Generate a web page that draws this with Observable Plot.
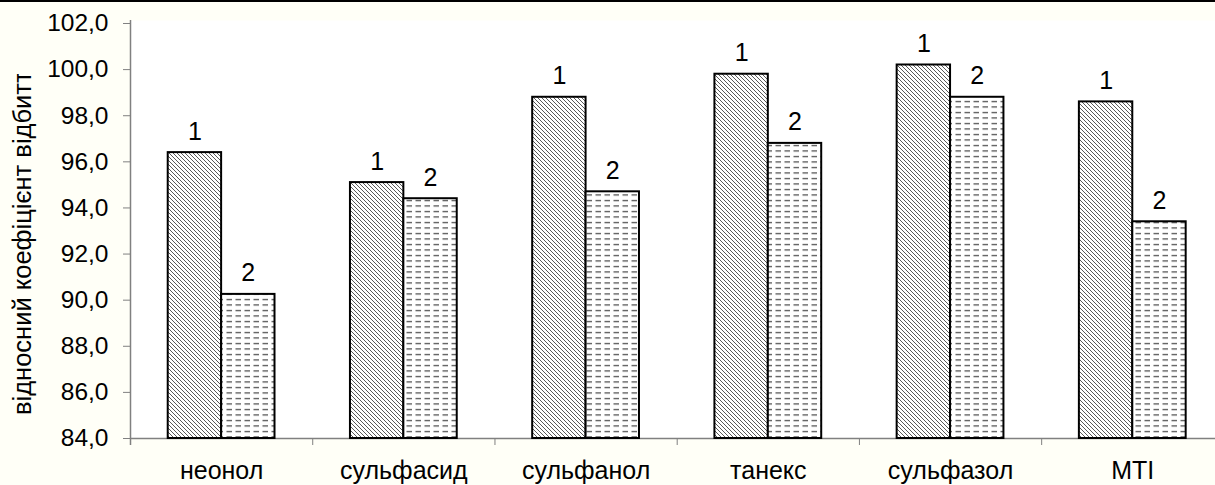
<!DOCTYPE html>
<html>
<head>
<meta charset="utf-8">
<script src="https://cdn.jsdelivr.net/npm/d3@7"></script>
<script src="https://cdn.jsdelivr.net/npm/@observablehq/plot@0.6"></script>
<style>
  html, body { margin: 0; padding: 0; background: #fffff7; overflow: hidden; }
  #chart { position: relative; width: 1215px; height: 485px; overflow: hidden; }
  #chart .topline { position: absolute; left: 0; top: 0; width: 100%; height: 2px; background: #000; z-index: 2; }
  #chart svg { display: block; }
</style>
</head>
<body>
<div id="chart"><div class="topline"></div></div>
<script>
// Surfactants tested
const categories = ["неонол", "сульфасид", "сульфанол", "танекс", "сульфазол", "МТІ"];
// Relative reflection coefficient, series 1 and series 2
const series1 = [96.4, 95.1, 98.8, 99.8, 100.2, 98.6];
const series2 = [90.25, 94.4, 94.7, 96.8, 98.8, 93.4];
const seriesNames = ["1", "2"];
const yTicks = [84, 86, 88, 90, 92, 94, 96, 98, 100, 102];
const yTitle = "відносний коефіцієнт відбиття";

const yMin = 84;
const barW = 0.293; // bar width, in category units

const rows = categories.flatMap((cat, i) => [
  {cat, i, s: seriesNames[0], v: series1[i], x1: i + 0.5 - barW, x2: i + 0.5},
  {cat, i, s: seriesNames[1], v: series2[i], x1: i + 0.5, x2: i + 0.5 + barW}
]);
const rows1 = rows.filter(d => d.s === seriesNames[0]);
const rows2 = rows.filter(d => d.s === seriesNames[1]);

const bounds = d3.range(categories.length + 1);
const centers = categories.map((_, i) => i + 0.5);
const font = "'Liberation Sans', Arial, sans-serif";
const axisGray = "#808080";

const chart = Plot.plot({
  width: 1224,
  height: 485,
  marginLeft: 130,
  marginRight: 0.6,
  marginTop: 20,
  marginBottom: 47,
  style: {fontFamily: font, background: "transparent", color: "#000", overflow: "visible", maxWidth: "none"},
  x: {domain: [0, categories.length], axis: null},
  y: {domain: [yMin, 102.13], axis: null},
  marks: [
    Plot.frame({fill: "white", stroke: null}),
    Plot.axisY({ticks: yTicks, tickSize: 7, tickPadding: 15, stroke: axisGray, fontSize: 24.5,
      tickFormat: d => d.toFixed(1).replace(".", ","), label: null}),
    Plot.axisX({ticks: bounds, tickSize: 7, tickFormat: () => "", stroke: axisGray, label: null}),
    Plot.axisX({ticks: centers, tickSize: 0, tickPadding: 23, fontSize: 25,
      tickFormat: d => categories[Math.floor(d)], label: null}),
    Plot.ruleY([yMin], {stroke: axisGray, strokeWidth: 1.5}),
    Plot.ruleX([0], {y1: 102.13, y2: yMin, insetBottom: -7, stroke: axisGray, strokeWidth: 1.5}),
    Plot.rect(rows1, {x1: "x1", x2: "x2", y1: yMin, y2: "v", fill: "url(#hatch)", stroke: "#000", strokeWidth: 2}),
    Plot.rect(rows2, {x1: "x1", x2: "x2", y1: yMin, y2: "v", fill: "url(#dashes)", stroke: "#000", strokeWidth: 2}),
    Plot.text(rows, {x: d => (d.x1 + d.x2) / 2, y: "v", text: "s", dy: -13, lineAnchor: "bottom", fontSize: 25})
  ]
});

const svg = d3.select(chart);
const defs = svg.insert("defs", ":first-child");

// diagonal hatching for series 1
const hatch = defs.append("pattern").attr("id", "hatch")
  .attr("patternUnits", "userSpaceOnUse").attr("width", 4).attr("height", 4);
hatch.append("rect").attr("width", 4).attr("height", 4).attr("fill", "#fff");
hatch.append("path").attr("d", "M-1,-1L5,5M3,-1L5,1M-1,3L1,5")
  .attr("stroke", "#222").attr("stroke-width", 0.75);

// horizontal dashes for series 2
const dashes = defs.append("pattern").attr("id", "dashes")
  .attr("patternUnits", "userSpaceOnUse").attr("width", 9).attr("height", 5.5);
dashes.append("rect").attr("width", 9).attr("height", 5.5).attr("fill", "#fff");
dashes.append("path").attr("d", "M1.5,2.5H7")
  .attr("stroke", "#333").attr("stroke-width", 1.1);

// rotated axis title, clipped at the top
defs.append("clipPath").attr("id", "titleClip")
  .append("rect").attr("x", 0).attr("y", 74).attr("width", 60).attr("height", 400);
svg.append("g").attr("clip-path", "url(#titleClip)")
  .append("text")
  .attr("transform", "translate(31,415) rotate(-90)")
  .attr("text-anchor", "start")
  .attr("font-size", 25.5)
  .attr("font-family", font)
  .attr("fill", "#000")
  .text(yTitle);

document.getElementById("chart").append(chart);
</script>
</body>
</html>
